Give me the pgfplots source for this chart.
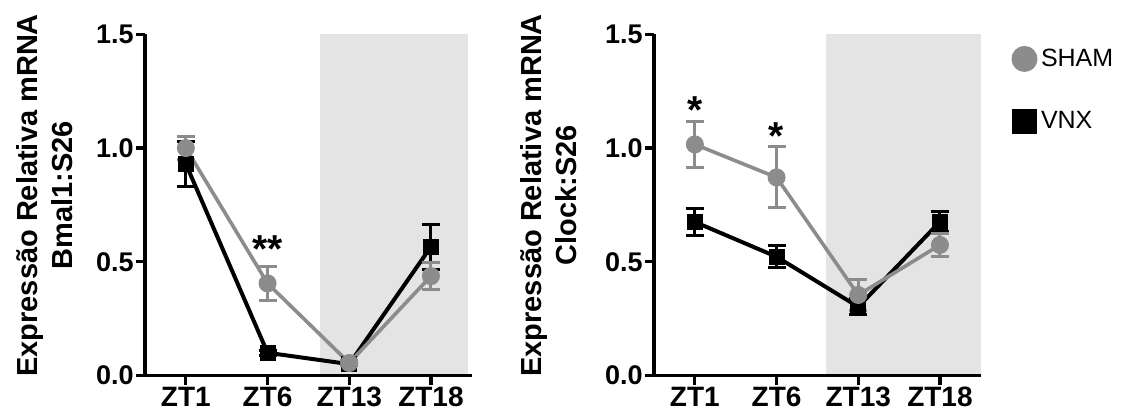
\documentclass[border=0pt]{standalone}
\usepackage{fontspec}
\setmainfont{Liberation Sans}
\usepackage{pgfplots}
\usepackage{pgfplotstable}
\pgfplotsset{compat=1.18}
\definecolor{shamgray}{RGB}{140,140,140}
\definecolor{shadegray}{RGB}{228,228,228}

% x  y  err
\pgfplotstableread{
x y e
0 0.93 0.10
1 0.10 0.012
2 0.05 0.008
3 0.566 0.10
}\bmalvnx
\pgfplotstableread{
x y e
0 1.00 0.05
1 0.405 0.075
2 0.055 0.01
3 0.437 0.058
}\bmalsham
\pgfplotstableread{
x y e
0 0.675 0.058
1 0.522 0.048
2 0.302 0.036
3 0.676 0.045
}\clockvnx
\pgfplotstableread{
x y e
0 1.016 0.10
1 0.871 0.134
2 0.354 0.07
3 0.574 0.05
}\clocksham

\pgfplotsset{
  panel/.style={
    scale only axis, width=163.4pt, height=170.6pt,
    xmin=-0.5, xmax=3.5, ymin=0, ymax=1.5,
    axis lines=left, axis line style={-, line width=1.6pt},
    xtick={0,1,2,3}, xticklabels={ZT1,ZT6,ZT13,ZT18},
    ytick={0,0.5,1,1.5}, yticklabels={0.0,0.5,1.0,1.5},
    tick align=outside, major tick length=4.5pt,
    tick style={line width=1.6pt, black},
    xticklabel style={font=\bfseries\fontsize{14}{16}\selectfont, inner sep=1pt},
    yticklabel style={font=\bfseries\fontsize{13.5}{16}\selectfont, inner sep=1pt},
    ylabel style={align=center, font=\bfseries\fontsize{14.5}{17.5}\selectfont, anchor=south, inner sep=0pt},
    axis on top, clip=false,
    anchor=south west,
  },
  vnx/.style={black, line width=2pt, mark=square*, mark size=3.75pt,
    mark options={solid, fill=black, line width=0.5pt},
    error bars/y dir=both, error bars/y explicit,
    error bars/error bar style={line width=1.5pt, black},
    error bars/error mark options={rotate=90, mark size=4.5pt, line width=1.5pt, black}},
  sham/.style={shamgray, line width=1.8pt, mark=*, mark size=4.25pt,
    mark options={solid, fill=shamgray, line width=0.5pt},
    error bars/y dir=both, error bars/y explicit,
    error bars/error bar style={line width=1.5pt, shamgray},
    error bars/error mark options={rotate=90, mark size=4.5pt, line width=1.5pt, shamgray}},
  legmark/.style={legend image code/.code={\draw[##1, mark size=#1] plot[only marks] coordinates {(0pt,0pt)};}},
}

\begin{document}
\begin{tikzpicture}
\useasboundingbox (0,0) rectangle (562pt,207pt);

\begin{axis}[panel, at={(72.5pt,19.25pt)},
  ylabel={Expressão Relativa mRNA\\Bmal1:S26},
  ylabel style={at={(axis description cs:-0.22,0.528)}}]
  \addplot[fill=shadegray, draw=none, forget plot] coordinates {(1.64,0) (3.45,0) (3.45,1.5) (1.64,1.5)} -- cycle;
  \addplot[vnx] table[x=x, y=y, y error=e] {\bmalvnx};
  \addplot[sham] table[x=x, y=y, y error=e] {\bmalsham};
  \node[font=\bfseries\fontsize{19.5}{20}\selectfont, anchor=base] at (axis cs:1,0.495) {**};
\end{axis}

\begin{axis}[panel, at={(327pt,19.25pt)},
  ylabel={Expressão Relativa mRNA\\Clock:S26},
  ylabel style={at={(axis description cs:-0.235,0.528)}},
  reverse legend, legend cell align=left,
  legend style={at={(rel axis cs:1,1)}, anchor=north west, xshift=15.4pt, yshift=-5pt,
    draw=none, fill=none, inner sep=0pt, row sep=17pt,
    font=\fontsize{12.5}{15}\selectfont}]
  \addplot[fill=shadegray, draw=none, forget plot] coordinates {(1.6,0) (3.5,0) (3.5,1.5) (1.6,1.5)} -- cycle;
  \addplot[vnx, legmark=6pt] table[x=x, y=y, y error=e] {\clockvnx};
  \addlegendentry{VNX}
  \addplot[sham, legmark=6.25pt] table[x=x, y=y, y error=e] {\clocksham};
  \addlegendentry{SHAM}
  \node[font=\bfseries\fontsize{19.5}{20}\selectfont, anchor=base] at (axis cs:0,1.11) {*};
  \node[font=\bfseries\fontsize{19.5}{20}\selectfont, anchor=base] at (axis cs:1,0.993) {*};
\end{axis}
\end{tikzpicture}
\end{document}
